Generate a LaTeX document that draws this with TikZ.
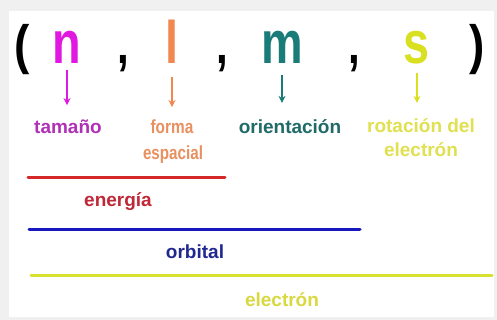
\documentclass[tikz,border=0pt]{standalone}
\usepackage{fontspec}
\setmainfont{Liberation Sans}
\usetikzlibrary{arrows.meta}
\definecolor{cN}{HTML}{E018E0}
\definecolor{cNl}{HTML}{B030B8}
\definecolor{cL}{HTML}{F08850}
\definecolor{cLl}{HTML}{E89060}
\definecolor{cM}{HTML}{1A7C78}
\definecolor{cMl}{HTML}{206A68}
\definecolor{cS}{HTML}{D8E020}
\definecolor{cSl}{HTML}{E0E050}
\definecolor{cRed}{HTML}{D42828}
\definecolor{cRedT}{HTML}{C02838}
\definecolor{cBlue}{HTML}{1818C0}
\definecolor{cBlueT}{HTML}{202890}
\definecolor{cYel}{HTML}{D8E030}
\definecolor{cYelT}{HTML}{D8D840}
\definecolor{bggray}{HTML}{F0F0F0}
\tikzset{
  big/.style={anchor=base, inner sep=0pt, font=\fontsize{60}{60}\selectfont\bfseries},
  punct/.style={anchor=base, inner sep=0pt, font=\fontsize{54}{54}\selectfont\bfseries},
  lab/.style={anchor=base, inner sep=0pt, font=\fontsize{19}{22}\selectfont\bfseries},
  arr/.style={-{Stealth[length=7pt,width=7pt]}, line width=1.4pt},
  bar/.style={line width=3pt, line cap=round}
}
\begin{document}
\begin{tikzpicture}[x=1pt,y=-1pt]
\fill[bggray] (0,0) rectangle (497,320);
\fill[white] (9,11) rectangle (494,317);
\useasboundingbox (0,0) rectangle (497,320);
% parentheses and commas
\node[punct] (po) at (22,64) {\scalebox{0.85}[1]{(}};
\node[punct] (pc) at (477,64) {\scalebox{0.85}[1]{)}};
\node[big] (c1) at (123,64) {\scalebox{0.7}[0.9]{,}};
\node[big] (c2) at (222,64) {\scalebox{0.7}[0.9]{,}};
\node[big] (c3) at (354,64) {\scalebox{0.7}[0.9]{,}};
% quantum numbers
\node[big, text=cN] (n) at (67,64) {\scalebox{0.78}[1]{n}};
\node[big, text=cL] (l) at (172,64) {\scalebox{0.78}[1]{l}};
\node[big, text=cM] (m) at (282,64) {\scalebox{0.78}[1]{m}};
\node[big, text=cS] (s) at (417,64) {\scalebox{0.78}[1]{s}};
% labels
\node[lab, text=cNl] (tam) at (68,134) {tamaño};
\node[lab, text=cLl] (forma) at (172,134) {\scalebox{0.81}[1]{forma}};
\node[lab, text=cLl] (esp) at (173,160) {\scalebox{0.8}[1]{espacial}};
\node[lab, text=cMl] (ori) at (290,134) {orientación};
\node[lab, text=cSl] (rot) at (421,133) {rotación del};
\node[lab, text=cSl] (rot2) at (421,157) {electrón};
% arrows
\draw[arr, cN, shorten >=15pt] ([yshift=-6pt]n.base) -- (n.base |- tam.north);
\draw[arr, cL, shorten >=13pt] ([yshift=-13pt]l.base) -- (l.base |- forma.north);
\draw[arr, cM, shorten >=17pt] ([yshift=-11pt]m.base) -- (m.base |- ori.north);
\draw[arr, cS, shorten >=16pt] ([yshift=-9pt]s.base) -- (s.base |- rot.north);
% bars
\coordinate (r1) at (28,178); \coordinate (r2) at (225,178);
\coordinate (b1) at (29,229); \coordinate (b2) at (360,229);
\coordinate (y1) at (31,275); \coordinate (y2) at (492,275);
\draw[bar, cRed] (r1) -- (r2);
\draw[bar, cBlue] (b1) -- (b2);
\draw[bar, cYel] (y1) -- (y2);
\node[lab, text=cRedT] (ene) at (118,207) {energía};
\node[lab, text=cBlueT] (orb) at (195,258) {orbital};
\node[lab, text=cYelT] (ele) at (282,306) {electrón};
\end{tikzpicture}
\end{document}
